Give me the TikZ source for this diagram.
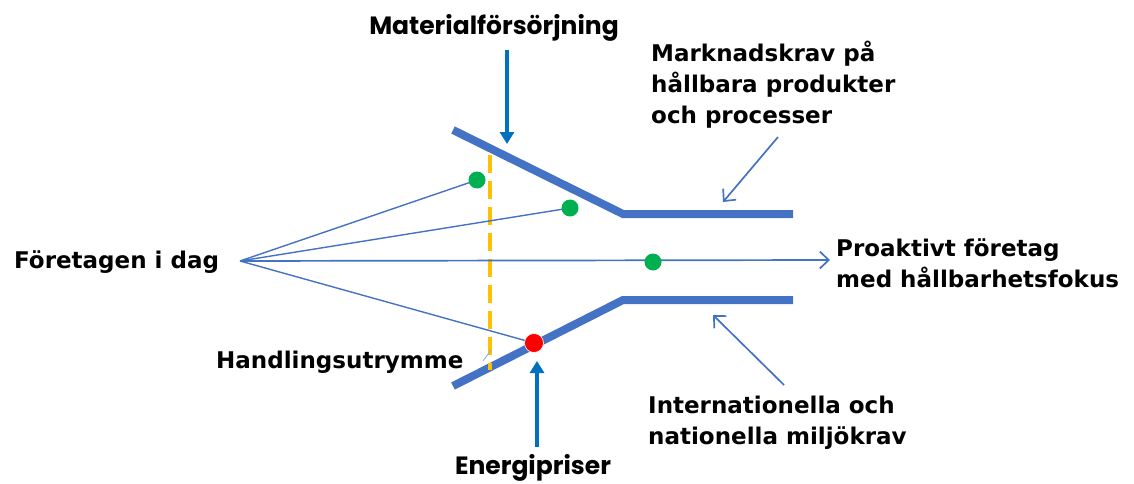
\documentclass[tikz,border=0pt]{standalone}
\usepackage{fontspec}
\setmainfont{DejaVu Sans}
\newfontfamily\popfont{Poppins}
\usetikzlibrary{arrows.meta}
\definecolor{funblue}{RGB}{68,114,196}
\definecolor{arrblue}{RGB}{0,112,192}
\definecolor{dotgreen}{RGB}{0,176,80}
\definecolor{dotred}{RGB}{255,0,0}
\definecolor{gapyellow}{RGB}{255,192,0}

\begin{document}
\begin{tikzpicture}[x=1pt,y=-1pt,
		funnel/.style={draw=funblue,line width=8pt},
		ray/.style={draw=funblue,line width=1.4pt},
		push/.style={draw=funblue,line width=1.7pt,-{Straight Barb[length=9pt,width=17pt]}},
		force/.style={draw=arrblue,line width=3.5pt,-{Triangle[length=12pt,width=14pt]}},
		gdot/.style={circle,fill=dotgreen,minimum size=17pt,inner sep=0pt},
		rdot/.style={circle,fill=dotred,draw=white,line width=0.6pt,minimum size=19pt,inner sep=0pt},
		lbl/.style={font=\fontsize{23}{31}\selectfont\bfseries,inner sep=0pt,align=left},
		plbl/.style={font=\fontsize{25}{30}\popfont\bfseries,inner sep=0pt}]
		\useasboundingbox (0,0) rectangle (1134,484);
		% funnel
		\coordinate (tl) at (453,130);
		\coordinate (tk) at (623,214);
		\coordinate (tr) at (793,214);
		\coordinate (bl) at (453,386);
		\coordinate (bk) at (623,300);
		\coordinate (br) at (793,300);
		\draw [funnel] (tl) -- (tk) -- (tr);
		\draw [funnel] (bl) -- (bk) -- (br);
		% room to act
		\coordinate (gtop) at (490,155);
		\coordinate (gbot) at (490,370);
		\draw [gapyellow,line width=4.5pt,dash pattern=on 18pt off 8pt] (gtop) -- (gbot);
		% firms today
		\node [lbl,anchor=west] (today) at (14,262) {Företagen i dag};
		\coordinate (src) at (240,261);
		\coordinate (p1) at (477,180);
		\coordinate (p2) at (570,208);
		\coordinate (p3) at (653,262);
		\coordinate (p4) at (534,343);
		\coordinate (goal) at (830,260);
		\draw [ray] (src) -- (p1);
		\draw [ray] (src) -- (p2);
		\draw [ray] (src) -- (p4);
		\draw [push] (src) -- (goal);
		\node [gdot] (d1) at (p1) {};
		\node [gdot] (d2) at (p2) {};
		\node [gdot] (d3) at (p3) {};
		\node [rdot] (d4) at (p4) {};
		\node [lbl,anchor=west] (proact) at (836,263) {Proaktivt företag\\med hållbarhetsfokus};
		% market
		\node [lbl,anchor=west] (market) at (651,85) {Marknadskrav på\\hållbara produkter\\och processer};
		\coordinate (m1) at (778,137);
		\coordinate (m2) at (723,202);
		\draw [push] (m1) -- (m2);
		% laws
		\node [lbl,anchor=west] (laws) at (648,423) {Internationella och\\nationella miljökrav};
		\coordinate (l1) at (784,385);
		\coordinate (l2) at (713,315);
		\draw [push] (l1) -- (l2);
		% material and energy
		\node [plbl] (mat) at (494,28) {Materialförsörjning};
		\coordinate (a1) at (507,50);
		\coordinate (a2) at (507,144);
		\draw [force] (a1) -- (a2);
		\node [plbl] (energy) at (533,468) {Energipriser};
		\coordinate (e1) at (537,447);
		\coordinate (e2) at (537,361);
		\draw [force] (e1) -- (e2);
		% room to act label
		\node [lbl,anchor=west] (room) at (216,362) {Handlingsutrymme};
		\coordinate (r1) at (483,361);
		\coordinate (r2) at (491,350);
		\draw [funblue!60,line width=0.8pt] (r1) -- (r2);
\end{tikzpicture}
\end{document}
